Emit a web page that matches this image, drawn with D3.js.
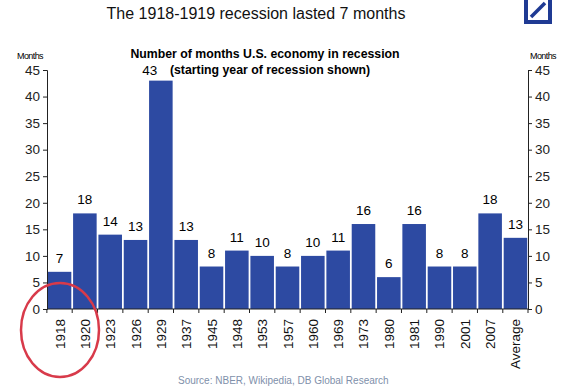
<!DOCTYPE html>
<html>
<head>
<meta charset="utf-8">
<script src="https://cdn.jsdelivr.net/npm/d3@7"></script>
<style>
  body { margin: 0; background: #fff; }
  text { font-family: Arial, "Liberation Sans", sans-serif; }
</style>
</head>
<body>
<div id="chart"></div>
<script>
// recession lengths, months
var years = ["1918", "1920", "1923", "1926", "1929", "1937", "1945", "1948", "1953",
             "1957", "1960", "1969", "1973", "1980", "1981", "1990", "2001", "2007", "Average"];
var months = [7, 18, 14, 13, 43, 13, 8, 11, 10, 8, 10, 11, 16, 6, 16, 8, 8, 18, 13.4];
var labels = ["7", "18", "14", "13", "43", "13", "8", "11", "10", "8", "10", "11", "16", "6", "16", "8", "8", "18", "13"];
var yTicks = [0, 5, 10, 15, 20, 25, 30, 35, 40, 45];

var W = 563, H = 390;
var margin = {top: 70, right: 35, bottom: 81, left: 47};
var width = W - margin.left - margin.right;
var height = H - margin.top - margin.bottom;
var barColor = "#2d4aa2";

var svg = d3.select("#chart").append("svg")
    .attr("width", W)
    .attr("height", H);

// title
svg.append("text")
    .attr("x", 256).attr("y", 19)
    .attr("text-anchor", "middle")
    .style("font-size", "16px")
    .style("fill", "#111")
    .text("The 1918-1919 recession lasted 7 months");

// logo
svg.append("rect")
    .attr("x", 526).attr("y", -2).attr("width", 24).attr("height", 24)
    .attr("fill", "none").attr("stroke", "#1f3a93").attr("stroke-width", 4);
svg.append("line")
    .attr("x1", 531).attr("y1", 17).attr("x2", 545).attr("y2", 3)
    .attr("stroke", "#1f3a93").attr("stroke-width", 3.5);

// subtitle
svg.append("text")
    .attr("x", 265).attr("y", 58)
    .attr("text-anchor", "middle")
    .style("font-size", "12.3px").style("font-weight", "bold")
    .text("Number of months U.S. economy in recession");
svg.append("text")
    .attr("x", 270).attr("y", 74)
    .attr("text-anchor", "middle")
    .style("font-size", "12.3px").style("font-weight", "bold")
    .text("(starting year of recession shown)");

// axis titles
svg.append("text")
    .attr("x", 30).attr("y", 59).attr("text-anchor", "middle")
    .style("font-size", "9px").style("letter-spacing", "-0.6px")
    .text("Months");
svg.append("text")
    .attr("x", 543).attr("y", 59).attr("text-anchor", "middle")
    .style("font-size", "9px").style("letter-spacing", "-0.6px")
    .text("Months");

var g = svg.append("g")
    .attr("transform", "translate(" + margin.left + "," + margin.top + ")");

var x = d3.scaleBand()
    .domain(years)
    .range([0, width])
    .paddingInner(0.07)
    .paddingOuter(0.03);

var y = d3.scaleLinear()
    .domain([0, 45])
    .range([height, 0]);

// bars
g.selectAll("rect.bar")
    .data(years)
    .enter()
    .append("rect")
    .attr("class", "bar")
    .attr("x", function(d) {return x(d);})
    .attr("width", x.bandwidth())
    .attr("y", function(d, i) {return y(months[i]);})
    .attr("height", function(d, i) {return height - y(months[i]);})
    .attr("fill", barColor);

// value labels (the tall one is nudged left of the subtitle)
g.selectAll("text.val")
    .data(years)
    .enter()
    .append("text")
    .attr("class", "val")
    .attr("x", function(d, i) {return x(d) + x.bandwidth() / 2 - (months[i] > 40 ? 11 : 0);})
    .attr("y", function(d, i) {return y(months[i]) - (months[i] > 40 ? 6 : 9);})
    .attr("text-anchor", "middle")
    .style("font-size", "13.5px")
    .text(function(d, i) {return labels[i];});

// left axis
var yl = g.append("g")
    .call(d3.axisLeft(y).tickValues(yTicks).tickSize(4).tickSizeOuter(4));
// right axis
var yr = g.append("g")
    .attr("transform", "translate(" + width + ",0)")
    .call(d3.axisRight(y).tickValues(yTicks).tickSize(4).tickSizeOuter(4));
[yl, yr].forEach(function(a) {
    a.selectAll("text").style("font-size", "13.5px").style("fill", "#222");
    a.select(".domain").attr("stroke", "#222");
    a.selectAll(".tick line").attr("stroke", "#222");
});

// bottom axis: ticks between bars
var step = x.step();
var x0 = x(years[0]) - step * x.paddingInner() / 2;
var xa = g.append("g")
    .attr("transform", "translate(0," + height + ")");
xa.append("line")
    .attr("x1", 0).attr("x2", width)
    .attr("stroke", "#222");
xa.selectAll("line.sep")
    .data(d3.range(years.length + 1))
    .enter()
    .append("line")
    .attr("class", "sep")
    .attr("x1", function(i) {return i === years.length ? width : x0 + i * step;})
    .attr("x2", function(i) {return i === years.length ? width : x0 + i * step;})
    .attr("y1", 0).attr("y2", 4)
    .attr("stroke", "#222");
xa.selectAll("text")
    .data(years)
    .enter()
    .append("text")
    .attr("transform", function(d) {
        return "translate(" + (x(d) + x.bandwidth() / 2 + 5) + ",10) rotate(-90)";
    })
    .attr("text-anchor", "end")
    .style("font-size", "13.5px")
    .style("fill", "#111")
    .text(function(d) {return d;});

// source
svg.append("text")
    .attr("x", 178).attr("y", 384)
    .style("font-size", "10px")
    .style("fill", "#8090aa")
    .text("Source: NBER, Wikipedia, DB Global Research");

// red ellipse around 1918
svg.append("ellipse")
    .attr("cx", 60).attr("cy", 330)
    .attr("rx", 39).attr("ry", 47)
    .attr("fill", "none")
    .attr("stroke", "#d83a4a")
    .attr("stroke-width", 2.5);
</script>
</body>
</html>
